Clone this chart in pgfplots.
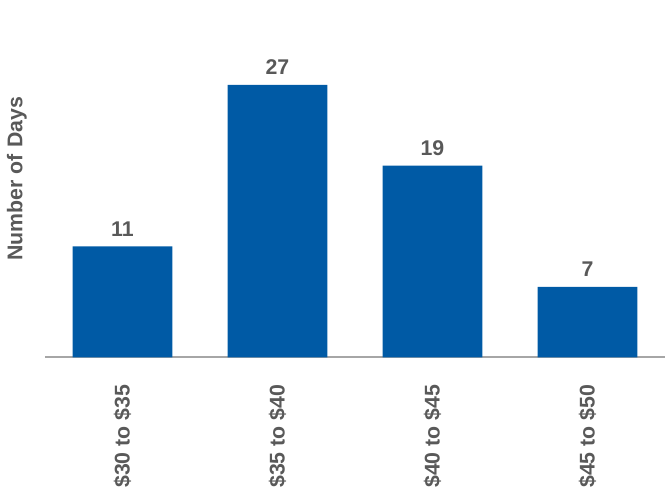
\documentclass[border=0pt]{standalone}
\usepackage{pgfplots}
\pgfplotsset{compat=1.18}
\usepackage{fontspec}
\setmainfont{Liberation Sans}
\definecolor{barblue}{RGB}{0,90,165}
\definecolor{txtgray}{RGB}{89,89,89}
\definecolor{linegray}{RGB}{166,166,166}
\begin{document}
\begin{tikzpicture}
\begin{axis}[
  scale only axis,
  width=465.75pt, height=268.5pt,
  xmin=-0.5, xmax=3.5,
  ymin=0, ymax=35.4,
  /pgf/number format/assume math mode=true,
  axis x line*=bottom,
  axis y line*=left,
  y axis line style={draw=none},
  x axis line style={draw=linegray, line width=1.5pt, -},
  ytick=\empty,
  xtick={0,1,2,3},
  xticklabels={\$30 to \$35,\$35 to \$40,\$40 to \$45,\$45 to \$50},
  major tick length=0pt,
  xticklabel style={yshift=-17pt, rotate=90, anchor=east, font=\fontsize{16}{19}\selectfont\bfseries, text=txtgray},
  ylabel={Number of Days},
  ylabel style={at={(axis description cs:-0.0451,0.5)}, anchor=center, font=\fontsize{16}{19}\selectfont\bfseries, text=txtgray},
  ybar, bar width=75pt,
  nodes near coords,
  nodes near coords style={font=\fontsize{16}{19}\selectfont\bfseries, text=txtgray, yshift=4pt},
  clip=false,
]
\addplot[fill=barblue, draw=none] coordinates {(0,11) (1,27) (2,19) (3,7)};
\path (axis description cs:-0.07246,1) rectangle (axis description cs:1,-0.39665);
\end{axis}
\end{tikzpicture}
\end{document}
